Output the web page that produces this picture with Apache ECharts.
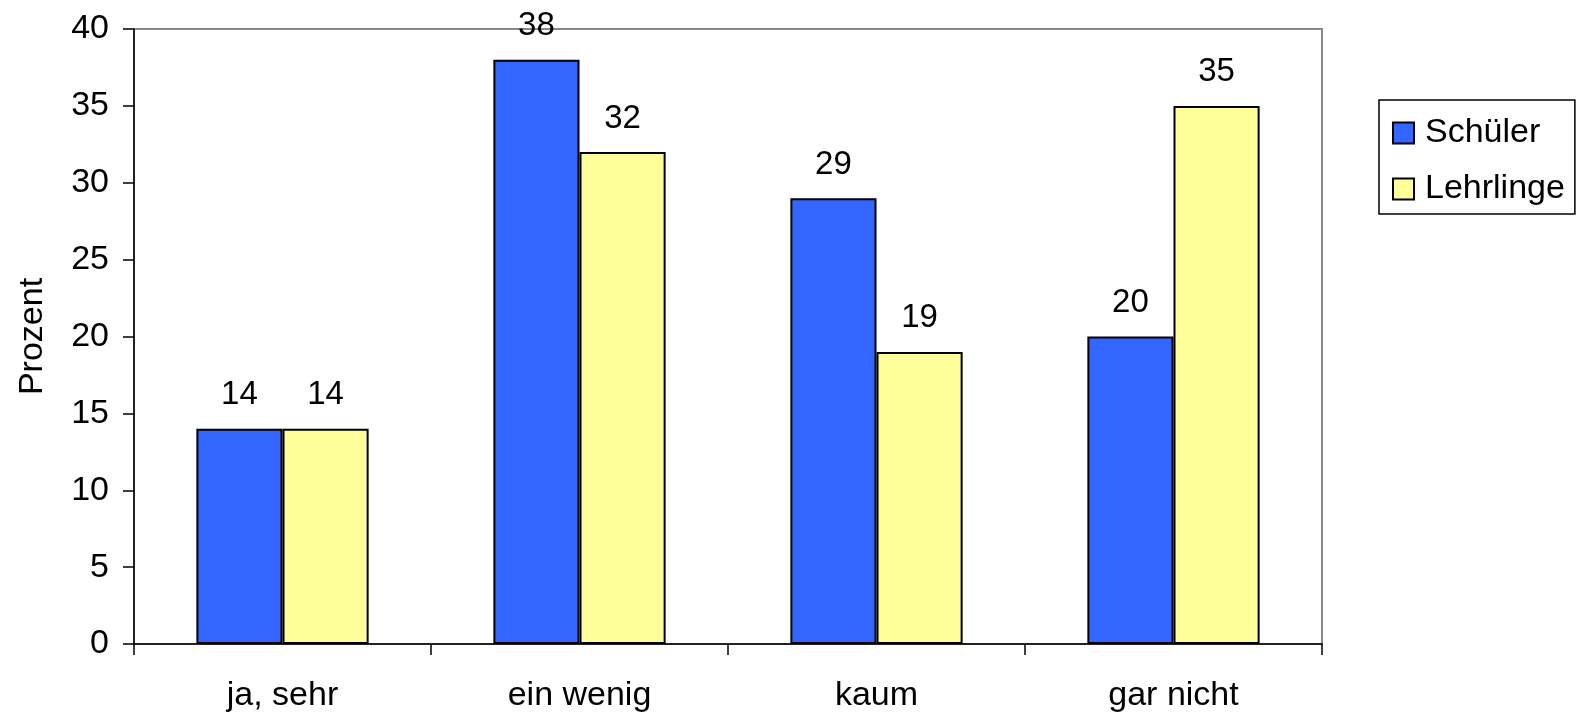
<!DOCTYPE html>
<html><head><meta charset="utf-8">
<script src="https://cdn.jsdelivr.net/npm/echarts@6/dist/echarts.min.js"></script>
<style>html,body{margin:0;padding:0;background:#fff}#c{width:1581px;height:720px}</style>
</head><body><div id="c"></div>
<script>
const categories = ['ja, sehr', 'ein wenig', 'kaum', 'gar nicht'];
const schueler = [14, 38, 29, 20];
const lehrlinge = [14, 32, 19, 35];
const yTicks = [0, 5, 10, 15, 20, 25, 30, 35, 40];

const chart = echarts.init(document.getElementById('c'));
const font = 'Liberation Sans, Arial, sans-serif';
const lbl = {show: true, position: 'top', distance: 17, color: '#000', fontSize: 33, fontFamily: font};
chart.setOption({
  animation: false,
  grid: {left: 134, right: 259, top: 29, bottom: 76, show: true, borderColor: '#888', borderWidth: 2, backgroundColor: '#fff'},
  legend: {
    orient: 'vertical', left: 1379, top: 100, padding: [16, 10, 8, 13],
    borderColor: '#000', borderWidth: 1.5, itemWidth: 21, itemHeight: 21, itemGap: 22,
    icon: 'rect',
    itemStyle: {borderColor: '#000', borderWidth: 2},
    textStyle: {fontSize: 34, fontFamily: font, color: '#000', padding: [0, 0, 0, 6]},
    data: ['Schüler', 'Lehrlinge']
  },
  xAxis: {
    type: 'category', data: categories, boundaryGap: true,
    axisLine: {lineStyle: {color: '#000', width: 1.5}},
    axisTick: {show: true, length: 11, inside: false, lineStyle: {color: '#000', width: 1.5}},
    axisLabel: {fontSize: 34, fontFamily: font, color: '#000', margin: 35}
  },
  yAxis: {
    type: 'value', min: yTicks[0], max: yTicks[yTicks.length - 1], interval: 5,
    name: 'Prozent', nameLocation: 'middle', nameGap: 84, nameRotate: 90,
    nameTextStyle: {fontSize: 34, fontFamily: font, color: '#000'},
    axisLine: {show: true, lineStyle: {color: '#000', width: 1.5}},
    axisTick: {show: true, length: 11, lineStyle: {color: '#000', width: 1.5}},
    splitLine: {show: false},
    axisLabel: {fontSize: 34, fontFamily: font, color: '#000', margin: 25}
  },
  series: [
    {name: 'Schüler', type: 'bar', data: schueler, barGap: '0%', barCategoryGap: '42%',
     itemStyle: {color: '#3366FF', borderColor: '#000', borderWidth: 2}, label: lbl},
    {name: 'Lehrlinge', type: 'bar', data: lehrlinge,
     itemStyle: {color: '#FFFF99', borderColor: '#000', borderWidth: 2}, label: lbl}
  ]
});
</script></body></html>
